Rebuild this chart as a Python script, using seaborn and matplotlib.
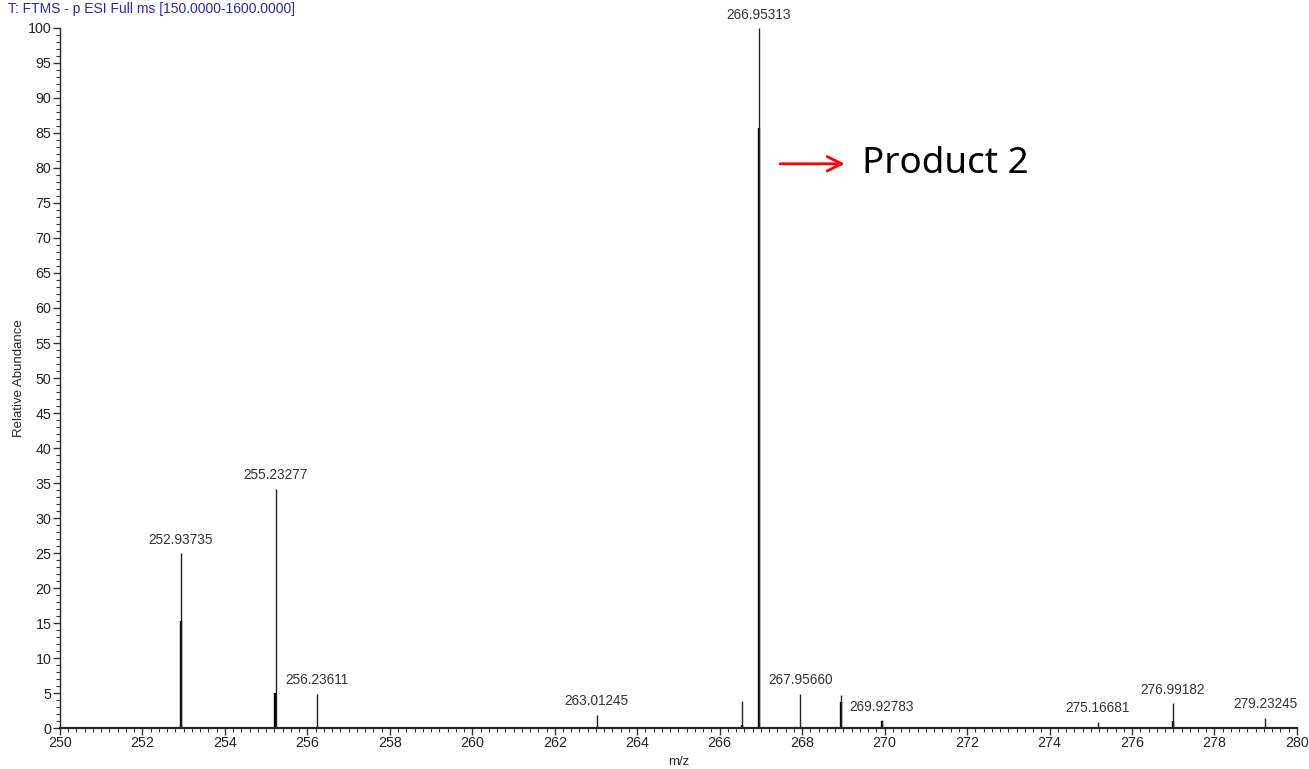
import matplotlib
matplotlib.use("Agg")
import matplotlib.pyplot as plt
from matplotlib.ticker import MultipleLocator
import pandas as pd
import seaborn as sns

# centroid sticks (labelled peaks)
peak_mz = [252.93735, 255.23277, 256.23611, 263.01245, 266.95313,
           267.95660, 269.92783, 275.16681, 276.99182, 279.23245]
peak_int = [25.0, 34.2, 4.9, 1.9, 100.0, 4.9, 1.1, 0.9, 3.6, 1.5]

# unlabelled sticks
minor_mz = [266.54, 268.93]
minor_int = [3.9, 4.7]

# heavier profile traces under the sticks
profile_mz = [252.925, 255.222, 266.955, 268.945, 269.93, 276.995, 266.55]
profile_int = [15.3, 5.0, 85.7, 3.7, 1.0, 1.0, 0.4]

title = "T: FTMS - p ESI Full ms [150.0000-1600.0000]"

sns.set_style("ticks")
plt.rcParams["font.family"] = ["Liberation Sans", "DejaVu Sans"]

peaks = pd.DataFrame({"mz": peak_mz, "intensity": peak_int})
extra = pd.DataFrame({"mz": minor_mz, "intensity": minor_int})
profile = pd.DataFrame({"mz": profile_mz, "intensity": profile_int})

fig = plt.figure(figsize=(13.09, 7.69), dpi=100)
ax = fig.add_axes([0.0458, 0.0533, 0.945, 0.9103])

ax.vlines(profile["mz"], 0, profile["intensity"], color="black", lw=1.7)
ax.vlines(peaks["mz"], 0, peaks["intensity"], color="#222222", lw=1.0)
ax.vlines(extra["mz"], 0, extra["intensity"], color="#222222", lw=1.0)

for mz, h in zip(peaks["mz"], peaks["intensity"]):
    ax.text(mz, h + 0.9, f"{mz:.5f}", ha="center", va="bottom",
            fontsize=9.8, color="#333333")

ax.set_xlim(250, 280)
ax.set_ylim(0, 100)
ax.xaxis.set_major_locator(MultipleLocator(2))
ax.xaxis.set_minor_locator(MultipleLocator(0.2))
ax.yaxis.set_major_locator(MultipleLocator(5))
ax.yaxis.set_minor_locator(MultipleLocator(1))
ax.tick_params(axis="both", which="major", labelsize=10.3, length=5,
               width=1, color="#333333", labelcolor="#222222", pad=1)
ax.tick_params(axis="both", which="minor", length=3, width=0.8, color="#333333")
ax.set_xlabel("m/z", fontsize=9.5, labelpad=4)
ax.set_ylabel("Relative Abundance", fontsize=9.5, labelpad=2)
sns.despine(ax=ax)
ax.spines["bottom"].set_linewidth(1.6)
ax.spines["left"].set_linewidth(1.0)

fig.text(0.006, 0.997, title, ha="left", va="top", fontsize=10, color="#2a2aa8")

ax.annotate("", xy=(269.1, 80.6), xytext=(267.4, 80.6),
            arrowprops=dict(arrowstyle="->", color="red", lw=2,
                            mutation_scale=26))
ax.text(269.45, 80.6, "Product 2", fontsize=26.5, va="center", ha="left",
        family=["Noto Sans", "DejaVu Sans"], color="black")

fig.savefig("out.png", dpi=100)
